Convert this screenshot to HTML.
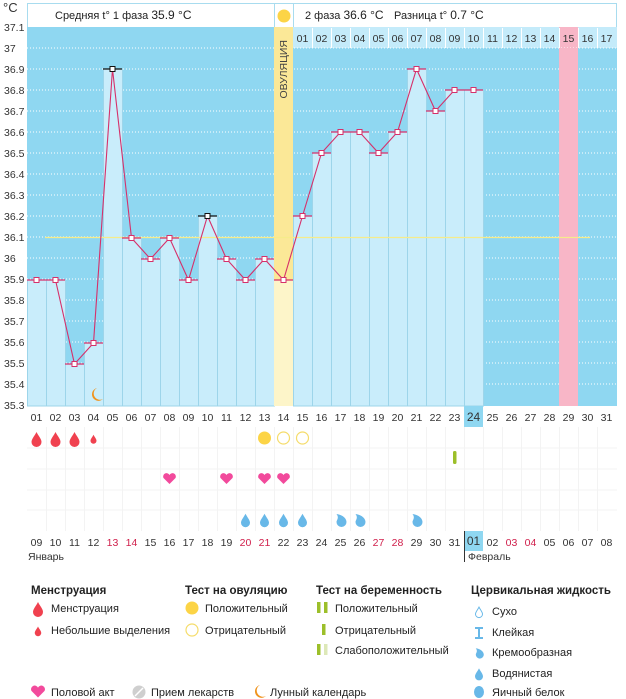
<!DOCTYPE html>
<html><head><meta charset="utf-8"><style>
body{margin:0;background:#fff;width:626px;height:699px;overflow:hidden}
svg{display:block}
text{font-family:"Liberation Sans",sans-serif;font-size:10.5px;fill:#333}
.b{font-weight:bold;font-size:11.5px;fill:#222}
.l{font-size:11px;fill:#222}
.r{fill:#d0204c}
</style></head><body>
<svg width="626" height="699" viewBox="0 0 626 699">
<defs>
<path id="drop" d="M0,-7 C2,-3 5,0 5,3 A5,5 0 0 1 -5,3 C-5,0 -2,-3 0,-7Z"/>
<path id="heart" d="M0,5 L-6,-1 A3.2,3.2 0 0 1 0,-4 A3.2,3.2 0 0 1 6,-1Z"/>
<path id="cream" d="M-4,-6 C3,-5 6,-1 6,2 A5,5 0 0 1 -4,2 C-4,0 -1,-2 -4,-6Z"/>
<path id="moon" d="M97,388 A6.5,6.5 0 1 0 103,399 A5,5 0 0 1 97,388Z"/>
</defs>
<text x="3" y="12" style="font-size:13px">°C</text>
<g text-anchor="start">
<text x="4" y="31">37.1</text><text x="4" y="52">37</text><text x="4" y="73">36.9</text><text x="4" y="94">36.8</text><text x="4" y="115">36.7</text><text x="4" y="136">36.6</text><text x="4" y="157">36.5</text><text x="4" y="178">36.4</text><text x="4" y="199">36.3</text><text x="4" y="220">36.2</text><text x="4" y="241">36.1</text><text x="4" y="262">36</text><text x="4" y="283">35.9</text><text x="4" y="304">35.8</text><text x="4" y="325">35.7</text><text x="4" y="346">35.6</text><text x="4" y="367">35.5</text><text x="4" y="388">35.4</text><text x="4" y="409">35.3</text>
</g>
<rect x="27.5" y="3.5" width="589" height="24" fill="#fff" stroke="#a8dcef"/>
<line x1="274.5" y1="3" x2="274.5" y2="27" stroke="#a8dcef"/><line x1="293.5" y1="3" x2="293.5" y2="27" stroke="#a8dcef"/>
<circle cx="284" cy="16" r="6.5" fill="#fcd446"/>
<text x="55" y="19" class="l" style="font-size:11px">Средняя t° 1 фаза <tspan style="font-size:12px">35.9 °C</tspan></text>
<text x="305" y="19" class="l" style="font-size:11px">2 фаза <tspan style="font-size:12px">36.6 °C</tspan></text>
<text x="394" y="19" class="l" style="font-size:11px">Разница t° <tspan style="font-size:12px">0.7 °C</tspan></text>
<rect x="27" y="27" width="590" height="379" fill="#8fd7f1"/>
<rect x="293" y="27" width="324" height="21" fill="#c4ebfa"/>
<rect x="559" y="27" width="19" height="379" fill="#f8b6c7"/>
<g stroke="#fff" stroke-dasharray="1 2" stroke-width="1">
<line x1="27" x2="617" y1="48" y2="48"/><line x1="27" x2="617" y1="69" y2="69"/><line x1="27" x2="617" y1="90" y2="90"/><line x1="27" x2="617" y1="111" y2="111"/><line x1="27" x2="617" y1="132" y2="132"/><line x1="27" x2="617" y1="153" y2="153"/><line x1="27" x2="617" y1="174" y2="174"/><line x1="27" x2="617" y1="195" y2="195"/><line x1="27" x2="617" y1="216" y2="216"/><line x1="27" x2="617" y1="237" y2="237"/><line x1="27" x2="617" y1="258" y2="258"/><line x1="27" x2="617" y1="279" y2="279"/><line x1="27" x2="617" y1="300" y2="300"/><line x1="27" x2="617" y1="321" y2="321"/><line x1="27" x2="617" y1="342" y2="342"/><line x1="27" x2="617" y1="363" y2="363"/><line x1="27" x2="617" y1="384" y2="384"/>
</g>
<rect x="559" y="48" width="19" height="358" fill="#f8b6c7"/>
<g fill="#c9edfb" stroke="#9dd5ea" stroke-width="1">
<rect x="27.5" y="280" width="19" height="126"/><rect x="46.5" y="280" width="19" height="126"/><rect x="65.5" y="364" width="19" height="42"/><rect x="84.5" y="343" width="19" height="63"/><rect x="103.5" y="69" width="19" height="337"/><rect x="122.5" y="238" width="19" height="168"/><rect x="141.5" y="259" width="19" height="147"/><rect x="160.5" y="238" width="19" height="168"/><rect x="179.5" y="280" width="19" height="126"/><rect x="198.5" y="216" width="19" height="190"/><rect x="217.5" y="259" width="19" height="147"/><rect x="236.5" y="280" width="19" height="126"/><rect x="255.5" y="259" width="19" height="147"/>
<rect x="293.5" y="216" width="19" height="190"/><rect x="312.5" y="153" width="19" height="253"/><rect x="331.5" y="132" width="19" height="274"/><rect x="350.5" y="132" width="19" height="274"/><rect x="369.5" y="153" width="19" height="253"/><rect x="388.5" y="132" width="19" height="274"/><rect x="407.5" y="69" width="19" height="337"/><rect x="426.5" y="111" width="19" height="295"/><rect x="445.5" y="90" width="19" height="316"/><rect x="464.5" y="90" width="19" height="316"/>
</g>
<rect x="274" y="27" width="19" height="379" fill="#fbe897"/>
<rect x="274" y="280" width="19" height="126" fill="#fdf5c9"/>
<text transform="translate(287,40) rotate(-90)" text-anchor="end" style="font-size:10.5px;fill:#444">ОВУЛЯЦИЯ</text>
<g text-anchor="middle">
<text x="302.5" y="42">01</text><text x="321.5" y="42">02</text><text x="340.5" y="42">03</text><text x="359.5" y="42">04</text><text x="378.5" y="42">05</text><text x="397.5" y="42">06</text><text x="416.5" y="42">07</text><text x="435.5" y="42">08</text><text x="454.5" y="42">09</text><text x="473.5" y="42">10</text><text x="492.5" y="42">11</text><text x="511.5" y="42">12</text><text x="530.5" y="42">13</text><text x="549.5" y="42">14</text><text x="568.5" y="42">15</text><text x="587.5" y="42">16</text><text x="606.5" y="42">17</text>
</g>
<g stroke="#fff" stroke-width="1"><line x1="312.5" y1="28" x2="312.5" y2="48"/><line x1="331.5" y1="28" x2="331.5" y2="48"/><line x1="350.5" y1="28" x2="350.5" y2="48"/><line x1="369.5" y1="28" x2="369.5" y2="48"/><line x1="388.5" y1="28" x2="388.5" y2="48"/><line x1="407.5" y1="28" x2="407.5" y2="48"/><line x1="426.5" y1="28" x2="426.5" y2="48"/><line x1="445.5" y1="28" x2="445.5" y2="48"/><line x1="464.5" y1="28" x2="464.5" y2="48"/><line x1="483.5" y1="28" x2="483.5" y2="48"/><line x1="502.5" y1="28" x2="502.5" y2="48"/><line x1="521.5" y1="28" x2="521.5" y2="48"/><line x1="540.5" y1="28" x2="540.5" y2="48"/><line x1="559.5" y1="28" x2="559.5" y2="48"/><line x1="578.5" y1="28" x2="578.5" y2="48"/><line x1="597.5" y1="28" x2="597.5" y2="48"/></g>
<line x1="45" y1="237.5" x2="590" y2="237.5" stroke="#f6ec8a" stroke-width="1.2"/>
<g stroke="#d6306a" stroke-width="1.2">
<line x1="27" x2="46" y1="280" y2="280"/><line x1="46" x2="65" y1="280" y2="280"/><line x1="65" x2="84" y1="364" y2="364"/><line x1="84" x2="103" y1="343" y2="343"/><line x1="122" x2="141" y1="238" y2="238"/><line x1="141" x2="160" y1="259" y2="259"/><line x1="160" x2="179" y1="238" y2="238"/><line x1="179" x2="198" y1="280" y2="280"/><line x1="217" x2="236" y1="259" y2="259"/><line x1="236" x2="255" y1="280" y2="280"/><line x1="255" x2="274" y1="259" y2="259"/><line x1="274" x2="293" y1="280" y2="280"/><line x1="293" x2="312" y1="216" y2="216"/><line x1="312" x2="331" y1="153" y2="153"/><line x1="331" x2="350" y1="132" y2="132"/><line x1="350" x2="369" y1="132" y2="132"/><line x1="369" x2="388" y1="153" y2="153"/><line x1="388" x2="407" y1="132" y2="132"/><line x1="407" x2="426" y1="69" y2="69"/><line x1="426" x2="445" y1="111" y2="111"/><line x1="445" x2="464" y1="90" y2="90"/><line x1="464" x2="483" y1="90" y2="90"/>
</g>
<g stroke="#111" stroke-width="1.2"><line x1="103" x2="122" y1="69" y2="69"/><line x1="198" x2="217" y1="216" y2="216"/></g>
<polyline fill="none" stroke="#d6306a" stroke-width="1.1" points="36.5,280 55.5,280 74.5,364 93.5,343 112.5,69 131.5,238 150.5,259 169.5,238 188.5,280 207.5,216 226.5,259 245.5,280 264.5,259 283.5,280 302.5,216 321.5,153 340.5,132 359.5,132 378.5,153 397.5,132 416.5,69 435.5,111 454.5,90 473.5,90"/>
<g fill="#fff" stroke="#d6306a" stroke-width="1">
<rect x="34" y="277.5" width="5" height="5"/><rect x="53" y="277.5" width="5" height="5"/><rect x="72" y="361.5" width="5" height="5"/><rect x="91" y="340.5" width="5" height="5"/><rect x="129" y="235.5" width="5" height="5"/><rect x="148" y="256.5" width="5" height="5"/><rect x="167" y="235.5" width="5" height="5"/><rect x="186" y="277.5" width="5" height="5"/><rect x="224" y="256.5" width="5" height="5"/><rect x="243" y="277.5" width="5" height="5"/><rect x="262" y="256.5" width="5" height="5"/><rect x="281" y="277.5" width="5" height="5"/><rect x="300" y="213.5" width="5" height="5"/><rect x="319" y="150.5" width="5" height="5"/><rect x="338" y="129.5" width="5" height="5"/><rect x="357" y="129.5" width="5" height="5"/><rect x="376" y="150.5" width="5" height="5"/><rect x="395" y="129.5" width="5" height="5"/><rect x="414" y="66.5" width="5" height="5"/><rect x="433" y="108.5" width="5" height="5"/><rect x="452" y="87.5" width="5" height="5"/><rect x="471" y="87.5" width="5" height="5"/>
</g>
<g fill="#fff" stroke="#111" stroke-width="1"><rect x="110" y="66.5" width="5" height="5"/><rect x="205" y="213.5" width="5" height="5"/></g>
<use href="#moon" fill="#f0941e"/>
<g stroke="#f3f3f3" stroke-width="1">
<line x1="27" x2="617" y1="448" y2="448"/><line x1="27" x2="617" y1="469" y2="469"/><line x1="27" x2="617" y1="490" y2="490"/><line x1="27" x2="617" y1="510" y2="510"/>
<line x1="46.5" x2="46.5" y1="427" y2="531"/><line x1="65.5" x2="65.5" y1="427" y2="531"/><line x1="84.5" x2="84.5" y1="427" y2="531"/><line x1="103.5" x2="103.5" y1="427" y2="531"/><line x1="122.5" x2="122.5" y1="427" y2="531"/><line x1="141.5" x2="141.5" y1="427" y2="531"/><line x1="160.5" x2="160.5" y1="427" y2="531"/><line x1="179.5" x2="179.5" y1="427" y2="531"/><line x1="198.5" x2="198.5" y1="427" y2="531"/><line x1="217.5" x2="217.5" y1="427" y2="531"/><line x1="236.5" x2="236.5" y1="427" y2="531"/><line x1="255.5" x2="255.5" y1="427" y2="531"/><line x1="274.5" x2="274.5" y1="427" y2="531"/><line x1="293.5" x2="293.5" y1="427" y2="531"/><line x1="312.5" x2="312.5" y1="427" y2="531"/><line x1="331.5" x2="331.5" y1="427" y2="531"/><line x1="350.5" x2="350.5" y1="427" y2="531"/><line x1="369.5" x2="369.5" y1="427" y2="531"/><line x1="388.5" x2="388.5" y1="427" y2="531"/><line x1="407.5" x2="407.5" y1="427" y2="531"/><line x1="426.5" x2="426.5" y1="427" y2="531"/><line x1="445.5" x2="445.5" y1="427" y2="531"/><line x1="464.5" x2="464.5" y1="427" y2="531"/><line x1="483.5" x2="483.5" y1="427" y2="531"/><line x1="502.5" x2="502.5" y1="427" y2="531"/><line x1="521.5" x2="521.5" y1="427" y2="531"/><line x1="540.5" x2="540.5" y1="427" y2="531"/><line x1="559.5" x2="559.5" y1="427" y2="531"/><line x1="578.5" x2="578.5" y1="427" y2="531"/><line x1="597.5" x2="597.5" y1="427" y2="531"/>
</g>
<rect x="464" y="406" width="19" height="21" fill="#8fd7f1"/>
<rect x="465" y="531" width="18" height="20" fill="#8fd7f1"/>
<line x1="464.5" y1="531" x2="464.5" y2="562" stroke="#333"/>
<g text-anchor="middle">
<text x="36.5" y="421">01</text><text x="55.5" y="421">02</text><text x="74.5" y="421">03</text><text x="93.5" y="421">04</text><text x="112.5" y="421">05</text><text x="131.5" y="421">06</text><text x="150.5" y="421">07</text><text x="169.5" y="421">08</text><text x="188.5" y="421">09</text><text x="207.5" y="421">10</text><text x="226.5" y="421">11</text><text x="245.5" y="421">12</text><text x="264.5" y="421">13</text><text x="283.5" y="421">14</text><text x="302.5" y="421">15</text><text x="321.5" y="421">16</text><text x="340.5" y="421">17</text><text x="359.5" y="421">18</text><text x="378.5" y="421">19</text><text x="397.5" y="421">20</text><text x="416.5" y="421">21</text><text x="435.5" y="421">22</text><text x="454.5" y="421">23</text><text x="473.5" y="421" style="font-size:12px">24</text><text x="492.5" y="421">25</text><text x="511.5" y="421">26</text><text x="530.5" y="421">27</text><text x="549.5" y="421">28</text><text x="568.5" y="421">29</text><text x="587.5" y="421">30</text><text x="606.5" y="421">31</text>
<text x="36.5" y="546">09</text><text x="55.5" y="546">10</text><text x="74.5" y="546">11</text><text x="93.5" y="546">12</text><text x="112.5" y="546" class="r">13</text><text x="131.5" y="546" class="r">14</text><text x="150.5" y="546">15</text><text x="169.5" y="546">16</text><text x="188.5" y="546">17</text><text x="207.5" y="546">18</text><text x="226.5" y="546">19</text><text x="245.5" y="546" class="r">20</text><text x="264.5" y="546" class="r">21</text><text x="283.5" y="546">22</text><text x="302.5" y="546">23</text><text x="321.5" y="546">24</text><text x="340.5" y="546">25</text><text x="359.5" y="546">26</text><text x="378.5" y="546" class="r">27</text><text x="397.5" y="546" class="r">28</text><text x="416.5" y="546">29</text><text x="435.5" y="546">30</text><text x="454.5" y="546">31</text><text x="473.5" y="545" style="font-size:12px">01</text><text x="492.5" y="546">02</text><text x="511.5" y="546" class="r">03</text><text x="530.5" y="546" class="r">04</text><text x="549.5" y="546">05</text><text x="568.5" y="546">06</text><text x="587.5" y="546">07</text><text x="606.5" y="546">08</text>
</g>
<text x="28" y="560">Январь</text><text x="468" y="560">Февраль</text>
<g fill="#f0414f"><use href="#drop" x="36.5" y="439"/><use href="#drop" x="55.5" y="439"/><use href="#drop" x="74.5" y="439"/><use href="#drop" transform="translate(93.5,439) scale(0.6)"/></g>
<circle cx="264.5" cy="438" r="6.5" fill="#fcd446"/>
<circle cx="283.5" cy="438" r="6" fill="#fff" stroke="#f5dc6a" stroke-width="1.2"/>
<circle cx="302.5" cy="438" r="6" fill="#fff" stroke="#f5dc6a" stroke-width="1.2"/>
<rect x="453" y="451" width="3.5" height="13" rx="1.5" fill="#9cbf2a"/>
<g fill="#f24a9c"><use href="#heart" x="169.5" y="479"/><use href="#heart" x="226.5" y="479"/><use href="#heart" x="264.5" y="479"/><use href="#heart" x="283.5" y="479"/></g>
<g fill="#68b8e8"><use href="#drop" transform="translate(245.5,520) scale(0.9)"/><use href="#drop" transform="translate(264.5,520) scale(0.9)"/><use href="#drop" transform="translate(283.5,520) scale(0.9)"/><use href="#drop" transform="translate(302.5,520) scale(0.9)"/><use href="#cream" x="340.5" y="520"/><use href="#cream" x="359.5" y="520"/><use href="#cream" x="416.5" y="520"/></g>
<text x="31" y="594" class="b">Менструация</text>
<use href="#drop" x="38" y="609" fill="#f0414f"/><text x="51" y="612" class="l">Менструация</text>
<use href="#drop" transform="translate(38,631) scale(0.65)" fill="#f0414f"/><text x="51" y="634" class="l">Небольшие выделения</text>
<text x="185" y="594" class="b">Тест на овуляцию</text>
<circle cx="192" cy="608" r="6.5" fill="#fcd446"/><text x="205" y="612" class="l">Положительный</text>
<circle cx="192" cy="630" r="6" fill="#fff" stroke="#f5dc6a" stroke-width="1.2"/><text x="205" y="634" class="l">Отрицательный</text>
<text x="316" y="594" class="b">Тест на беременность</text>
<rect x="317" y="602" width="3.5" height="11" fill="#9cbf2a"/><rect x="324" y="602" width="3.5" height="11" fill="#9cbf2a"/><text x="335" y="612" class="l">Положительный</text>
<rect x="322" y="624" width="3.5" height="11" fill="#9cbf2a"/><text x="335" y="634" class="l">Отрицательный</text>
<rect x="317" y="644" width="3.5" height="11" fill="#9cbf2a"/><rect x="324" y="644" width="3.5" height="11" fill="#dde8b8"/><text x="335" y="654" class="l">Слабоположительный</text>
<text x="471" y="594" class="b">Цервикальная жидкость</text>
<g transform="translate(479,612) scale(0.7)"><use href="#drop" fill="#fff" stroke="#68b8e8" stroke-width="1.4"/></g><text x="492" y="615" class="l">Сухо</text>
<path d="M475,628 h8 M475,638 h8 M479,628 V638" stroke="#68b8e8" stroke-width="2" fill="none"/><text x="492" y="636" class="l">Клейкая</text>
<use href="#cream" transform="translate(479,653) scale(0.8)" fill="#68b8e8"/><text x="492" y="656" class="l">Кремообразная</text>
<use href="#drop" transform="translate(479,674) scale(0.8)" fill="#68b8e8"/><text x="492" y="677" class="l">Водянистая</text>
<ellipse cx="479" cy="692" rx="5" ry="6" fill="#68b8e8"/><text x="492" y="696" class="l">Яичный белок</text>
<use href="#heart" transform="translate(38,692) scale(1.1)" fill="#f24a9c"/><text x="51" y="696" class="l">Половой акт</text>
<circle cx="139" cy="692" r="6.5" fill="#cfcfcf"/><line x1="135" y1="696" x2="143" y2="688" stroke="#fff" stroke-width="1.5"/><text x="151" y="696" class="l">Прием лекарств</text>
<use href="#moon" transform="translate(163,297)" fill="#f0941e"/><text x="270" y="696" class="l">Лунный календарь</text>
</svg>
</body></html>
